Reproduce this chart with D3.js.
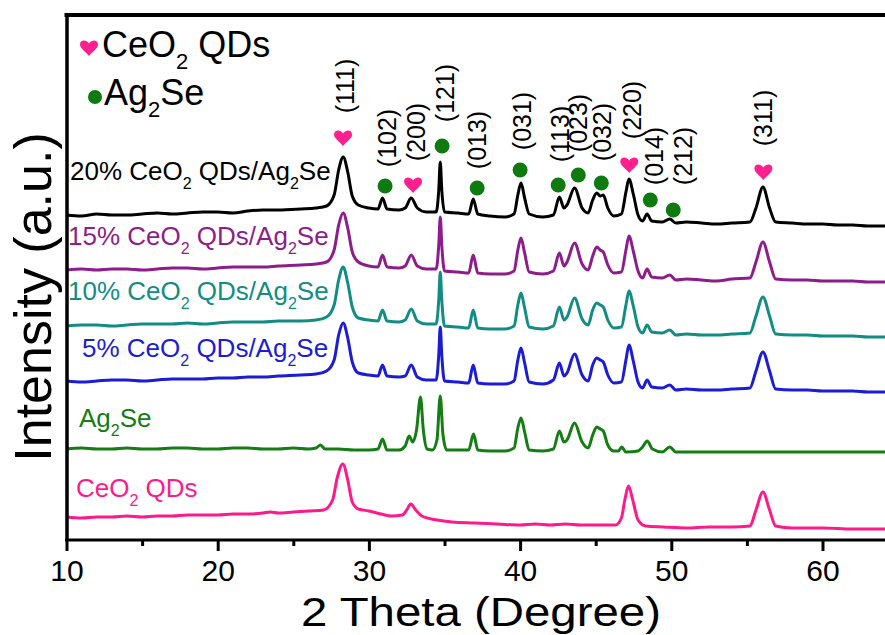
<!DOCTYPE html>
<html>
<head>
<meta charset="utf-8">
<script src="https://cdn.jsdelivr.net/npm/d3@7"></script>
<style>
  html, body { margin: 0; padding: 0; background: #fff; }
  svg { display: block; font-family: "Liberation Sans", Arial, Helvetica, sans-serif; }
</style>
</head>
<body>
<svg id="chart" width="885" height="635"></svg>
<script>
// XRD patterns: [2θ (degree), intensity (a.u., patterns stacked)]
const pattern20 = [[10,325],[11,324],[12,326],[13,325],[14,325],[15,326],[16,327],[17,326],[18,327],[19,328],[20,328],[21,327],[22,329],[23,330],[24,330],[25.5,331],[26.5,332],[27.2,334],[27.7,345],[28.0,370],[28.3,383],[28.6,368],[28.9,344],[29.3,335],[30.0,332],[30.6,331],[30.9,342],[31.2,331],[32.0,330],[32.4,332],[32.8,342],[33.2,332],[33.8,328],[34.45,328],[34.62,350],[34.72,378],[34.82,350],[35.0,328],[35.9,327],[36.6,326],[36.9,341],[37.2,326],[38,324],[39,323],[39.6,326],[39.85,345],[40.06,357],[40.3,342],[40.6,326],[41.5,323],[42.2,325],[42.6,343],[42.9,332],[43.1,335],[43.6,352],[44.1,332],[44.5,327],[44.8,340],[45.07,347],[45.3,344],[45.5,345],[45.8,332],[46.2,324],[46.7,326],[47.0,348],[47.2,361],[47.5,345],[47.8,325],[48.1,319],[48.4,326],[48.7,319],[49.4,318],[49.9,321],[50.3,317],[51,318],[52,317],[53,316],[54,317],[55.2,318],[55.6,332],[56.06,353],[56.5,332],[56.9,318],[58,317],[59,316],[60,316],[61,315],[62,315],[63,314],[64,314],[65,314]];

const pattern15 = [[10,270],[11,271],[12,270],[13,271],[14,271],[15,270],[16,271],[17,272],[18,272],[19,271],[20,272],[21,273],[22,273],[23,273],[24,274],[25.5,275],[26.5,276],[27.2,278],[27.7,290],[28.0,315],[28.3,327],[28.6,312],[28.9,288],[29.3,278],[30.0,274],[30.6,273],[30.9,285],[31.2,273],[32.0,272],[32.4,274],[32.8,285],[33.2,274],[33.8,271],[34.45,271],[34.62,295],[34.72,323],[34.82,295],[35.0,269],[35.9,268],[36.6,267],[36.9,285],[37.2,267],[38,266],[39,266],[39.6,269],[39.85,290],[40.06,302],[40.3,287],[40.6,268],[41.5,266],[42.2,269],[42.6,287],[42.9,274],[43.1,278],[43.6,297],[44.1,276],[44.5,270],[44.8,284],[45.07,293],[45.3,290],[45.5,288],[45.8,275],[46.2,267],[46.7,268],[47.0,290],[47.2,304],[47.5,288],[47.8,269],[48.1,262],[48.4,271],[48.7,263],[49.4,262],[49.9,265],[50.3,260],[51,261],[52,260],[53,259],[54,261],[55.2,262],[55.6,278],[56.06,298],[56.5,278],[56.9,261],[58,260],[59,260],[60,259],[61,259],[62,259],[63,258],[64,258],[65,258]];

const pattern10 = [[10,214],[11,215],[12,215],[13,214],[14,215],[15,216],[16,216],[17,216],[18,217],[19,216],[20,217],[21,218],[22,218],[23,218],[24,219],[25.5,219],[26.5,220],[27.2,223],[27.7,235],[28.0,260],[28.3,273],[28.6,257],[28.9,233],[29.3,222],[30.0,220],[30.6,219],[30.9,230],[31.2,219],[32.0,218],[32.4,220],[32.8,231],[33.2,219],[33.8,216],[34.45,216],[34.62,240],[34.72,268],[34.82,240],[35.0,214],[35.9,213],[36.6,212],[36.9,230],[37.2,212],[38,211],[39,211],[39.6,214],[39.85,235],[40.06,247],[40.3,232],[40.6,213],[41.5,211],[42.2,214],[42.6,233],[42.9,220],[43.1,223],[43.6,242],[44.1,221],[44.5,215],[44.8,230],[45.07,237],[45.3,235],[45.5,233],[45.8,220],[46.2,212],[46.7,213],[47.0,235],[47.2,249],[47.5,233],[47.8,213],[48.1,207],[48.4,215],[48.7,208],[49.4,207],[49.9,210],[50.3,205],[51,206],[52,205],[53,205],[54,206],[55.2,207],[55.6,224],[56.06,243],[56.5,224],[56.9,206],[58,205],[59,205],[60,204],[61,204],[62,204],[63,203],[64,203],[65,203]];

const pattern5 = [[10,159],[11,158],[12,159],[13,160],[14,160],[15,159],[16,160],[17,161],[18,161],[19,161],[20,162],[21,162],[22,163],[23,163],[24,164],[25.5,165],[26.5,166],[27.2,169],[27.7,180],[28.0,205],[28.3,217],[28.6,202],[28.9,178],[29.3,167],[30.0,165],[30.6,164],[30.9,175],[31.2,164],[32.0,163],[32.4,164],[32.8,175],[33.2,163],[33.8,160],[34.45,160],[34.62,185],[34.72,213],[34.82,185],[35.0,159],[35.9,158],[36.6,157],[36.9,175],[37.2,157],[38,156],[39,156],[39.6,159],[39.85,180],[40.06,192],[40.3,177],[40.6,158],[41.5,156],[42.2,160],[42.6,177],[42.9,164],[43.1,167],[43.6,186],[44.1,165],[44.5,159],[44.8,175],[45.07,182],[45.3,180],[45.5,178],[45.8,165],[46.2,157],[46.7,158],[47.0,180],[47.2,195],[47.5,178],[47.8,158],[48.1,152],[48.4,160],[48.7,153],[49.4,152],[49.9,155],[50.3,150],[51,151],[52,150],[53,150],[54,151],[55.2,152],[55.6,169],[56.06,188],[56.5,169],[56.9,151],[58,150],[59,150],[60,149],[61,149],[62,149],[63,148],[64,148],[65,148]];

const patternAg2Se = [[10,91],[11,92],[12,91],[13,91],[14,92],[15,91],[16,91],[17,92],[18,92],[19,91],[20,91],[21,92],[22,92],[23,91],[24,91],[25,92],[26.0,91],[26.5,92],[26.8,95],[27.1,91],[28,91],[29,90],[30,90],[30.6,91],[30.9,101],[31.2,90],[32.0,90],[32.4,94],[32.66,104],[32.9,98],[33.15,110],[33.41,143],[33.6,110],[33.85,91],[34.2,90],[34.5,100],[34.72,144],[34.9,105],[35.15,90],[36.0,90],[36.6,90],[36.92,106],[37.2,90],[38,89],[39,89],[39.6,92],[39.85,112],[40.06,122],[40.3,108],[40.6,90],[41.5,89],[42.2,91],[42.6,109],[42.9,98],[43.1,100],[43.6,117],[44.1,98],[44.5,92],[44.8,105],[45.07,113],[45.3,111],[45.5,109],[45.8,95],[46.2,89],[46.5,89],[46.72,93],[47.0,88],[47.8,89],[48.1,93],[48.41,99],[48.75,91],[49.4,88],[49.9,93],[50.3,88],[52,88],[55,88],[58,88],[60,88],[62,88],[65,88]];

const patternCeO2 = [[10,23],[11,22],[12,23],[13,23],[14,24],[15,23],[16,24],[17,24],[18,25],[19,25],[20,25],[21,26],[22,26],[23,27],[23.5,28],[24,27],[25,28],[26,29],[27,30],[27.6,40],[27.9,62],[28.28,76],[28.6,60],[28.9,38],[29.3,31],[30,29],[30.8,26],[31.5,24],[32.2,25],[32.5,30],[32.77,36],[33.1,30],[33.5,24],[34.5,20],[35.5,18],[37,17],[38.5,16],[40,15],[41,16],[42,15],[43,16],[44,15],[45,15],[46.3,15],[46.7,22],[46.95,42],[47.17,54],[47.45,40],[47.8,20],[48.3,14],[49.5,13],[51,12],[52.5,13],[54,13],[55.2,14],[55.6,30],[56.06,48],[56.5,30],[56.9,14],[58,12],[60,12],[62,11],[64,11],[65,10]];

// sample names ("_n" marks a subscript digit)
const sampleNames = ["20% CeO_2 QDs/Ag_2Se", "15% CeO_2 QDs/Ag_2Se", "10% CeO_2 QDs/Ag_2Se", "5% CeO_2 QDs/Ag_2Se", "Ag_2Se", "CeO_2 QDs"];
const patterns = [pattern20, pattern15, pattern10, pattern5, patternAg2Se, patternCeO2];

// indexed reflections
const hklLabels   = ["(111)", "(102)", "(200)", "(121)", "(013)", "(031)", "(113)", "(023)", "(032)", "(220)", "(014)", "(212)", "(311)"];
const hklPhase    = ["CeO2", "Ag2Se", "CeO2", "Ag2Se", "Ag2Se", "Ag2Se", "Ag2Se", "Ag2Se", "Ag2Se", "CeO2", "Ag2Se", "Ag2Se", "CeO2"];
const markerTheta = [28.29, 31.07, 32.92, 34.84, 37.16, 40.0, 42.52, 43.85, 45.37, 47.22, 48.61, 50.13, 56.09];
const markerInt   = [402, 354, 355, 394, 352, 370, 355, 365, 357, 375, 340, 330, 368];
const labelTheta  = [28.42, 31.2, 33.12, 35.04, 37.16, 40.14, 42.66, 43.85, 45.43, 47.42, 48.87, 50.79, 56.08];
const labelInt    = [454, 402, 408, 447, 400, 419, 406, 417, 408, 430, 384, 384, 422];

const majorTicks = [10, 20, 30, 40, 50, 60];
const minorTicks = [15, 25, 35, 45, 55, 65];

// drawing
const colors = ["#000000", "#8e1d8c", "#138c84", "#1b1bd8", "#147d14", "#ff1a8c"];
const labelPos = [[70, 180], [68, 245], [68, 300], [82, 357], [79, 427], [76, 497]];
const heartColor = "#ff1f8e", dotColor = "#0f7a0f";

const svg = d3.select("#chart");
const x = d3.scaleLinear().domain([10, 60]).range([66.5, 822.5]);
const y = d3.scaleLinear().domain([0, 525]).range([540, 15]);

function richText(sel, str, size) {
  const parts = str.split(/_(\d)/);
  const sub = Math.round(size * 0.62), shift = size * 0.33;
  parts.forEach((p, i) => {
    if (i % 2 === 0) {
      if (!p) return;
      sel.append("tspan").attr("font-size", size).attr("dy", i > 0 ? -shift : 0).text(p);
    } else {
      sel.append("tspan").attr("font-size", sub).attr("dy", shift).text(p);
    }
  });
}

const heartPath = "M0,8 C-3,4 -9,0.5 -9,-3.5 C-9,-7.8 -3.5,-9.2 0,-4.6 C3.5,-9.2 9,-7.8 9,-3.5 C9,0.5 3,4 0,8Z";

// patterns
const line = d3.line().x(d => x(d[0])).y(d => y(d[1])).curve(d3.curveMonotoneX);
svg.append("g").selectAll("path").data(patterns).join("path")
  .attr("d", line)
  .attr("fill", "none")
  .attr("stroke", (d, i) => colors[i])
  .attr("stroke-width", 3)
  .attr("stroke-linejoin", "round");

// sample labels
sampleNames.forEach((name, i) => {
  const t = svg.append("text").attr("x", labelPos[i][0]).attr("y", labelPos[i][1]).attr("fill", colors[i]);
  richText(t, name, 26);
});

// phase markers
hklLabels.forEach((lab, i) => {
  const cx = x(markerTheta[i]), cy = y(markerInt[i]);
  if (hklPhase[i] === "CeO2") {
    svg.append("path").attr("d", heartPath).attr("transform", `translate(${cx},${cy})`).attr("fill", heartColor);
  } else {
    svg.append("circle").attr("cx", cx).attr("cy", cy).attr("r", 7.5).attr("fill", dotColor);
  }
  svg.append("text")
    .attr("transform", `translate(${x(labelTheta[i])},${y(labelInt[i])}) rotate(-90)`)
    .attr("text-anchor", "middle")
    .attr("dominant-baseline", "central")
    .attr("font-size", 25)
    .attr("fill", "#000")
    .text(lab);
});

// legend
svg.append("path").attr("d", heartPath).attr("transform", "translate(89,48)").attr("fill", heartColor);
richText(svg.append("text").attr("x", 102).attr("y", 57).attr("fill", "#000"), "CeO_2 QDs", 36);
svg.append("circle").attr("cx", 95).attr("cy", 97).attr("r", 7).attr("fill", dotColor);
richText(svg.append("text").attr("x", 104).attr("y", 105).attr("fill", "#000"), "Ag_2Se", 36);

// axes
const xAxis = svg.append("g").attr("transform", "translate(0,540)")
  .call(d3.axisBottom(x).tickValues(majorTicks).tickSize(11).tickSizeOuter(0).tickPadding(9).tickFormat(d3.format("d")));
xAxis.select(".domain").attr("stroke-width", 3.2).attr("d", `M${x(10) - 1.5},0H900`);
xAxis.selectAll(".tick line").attr("stroke-width", 3);
xAxis.selectAll(".tick text").attr("font-size", 30).attr("font-family", "Liberation Sans, Arial, sans-serif").attr("fill", "#000");
svg.append("g").attr("transform", "translate(0,540)")
  .call(d3.axisBottom(x).tickValues(minorTicks).tickSize(6).tickSizeOuter(0).tickFormat(""))
  .call(g => g.select(".domain").remove())
  .selectAll(".tick line").attr("stroke-width", 3);

svg.append("g").attr("transform", "translate(66.5,0)")
  .call(d3.axisLeft(y).tickValues([]).tickSizeOuter(0))
  .select(".domain").attr("stroke-width", 3.5);
svg.append("g").attr("transform", "translate(0,15)")
  .call(d3.axisTop(x).tickValues([]).tickSizeOuter(0))
  .select(".domain").attr("stroke-width", 4).attr("d", `M${x(10) - 2},0H900`);

// axis titles
svg.append("text").attr("x", 481).attr("y", 625.5).attr("text-anchor", "middle")
  .attr("font-size", 41).attr("textLength", 360).attr("lengthAdjust", "spacingAndGlyphs")
  .attr("fill", "#000").text("2 Theta (Degree)");
svg.append("text").attr("transform", "translate(51,297) rotate(-90)").attr("text-anchor", "middle")
  .attr("font-size", 52).attr("fill", "#000").text("Intensity (a.u.)");
</script>
</body>
</html>
